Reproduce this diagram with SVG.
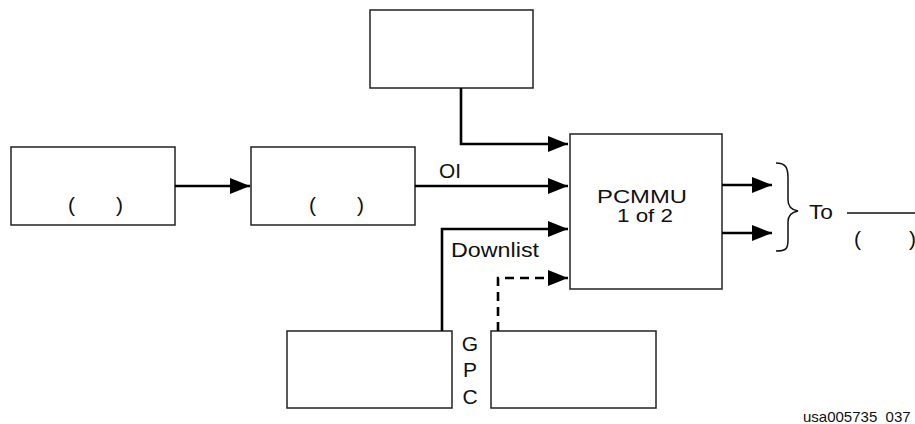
<svg xmlns="http://www.w3.org/2000/svg" width="915" height="424" viewBox="0 0 915 424">
<style>
.box{fill:#fff;stroke:#222;stroke-width:1.5}
.ln{fill:none;stroke:#000;stroke-width:2.6}
.dash{stroke-dasharray:9,6}
text{font-family:"Liberation Sans",Arial,sans-serif;font-size:21px;fill:#111}
.pc{font-size:19px}
</style>
<defs>
<marker id="ah" markerUnits="userSpaceOnUse" markerWidth="22" markerHeight="16" refX="20" refY="8" orient="auto">
<path d="M0,0 L20,8 L0,16 Z" fill="#000"/>
</marker>
</defs>
<g id="top-box"><rect class="box" x="370" y="10" width="163" height="78"/></g>
<g id="box-left"><rect class="box" x="11" y="147" width="164" height="78"/>
<text x="68" y="212">(</text><text x="116" y="212">)</text></g>
<g id="box-mid"><rect class="box" x="251" y="147" width="164" height="78"/>
<text x="309" y="212">(</text><text x="357" y="212">)</text></g>
<g id="pcmmu"><rect class="box" x="570" y="134" width="152" height="155"/>
<text class="pc" x="597" y="203" textLength="90" lengthAdjust="spacingAndGlyphs">PCMMU</text>
<text class="pc" x="617" y="222" textLength="56" lengthAdjust="spacingAndGlyphs">1 of 2</text></g>
<g id="box-bl"><rect class="box" x="287" y="331" width="165" height="77"/></g>
<g id="box-br"><rect class="box" x="491" y="331" width="165" height="77"/></g>
<g id="gpc"><text x="470" y="351" text-anchor="middle">G</text>
<text x="470" y="377" text-anchor="middle">P</text>
<text x="470" y="404" text-anchor="middle">C</text></g>
<g id="connectors">
<path class="ln" d="M461,88 V144 H568" marker-end="url(#ah)"/>
<path class="ln" d="M175,186 H250" marker-end="url(#ah)"/>
<path class="ln" d="M415,186 H568" marker-end="url(#ah)"/>
<path class="ln" d="M442,331 V229 H568" marker-end="url(#ah)"/>
<path class="ln dash" d="M498,331 V278 H568" marker-end="url(#ah)"/>
<path class="ln" d="M722,185 H772" marker-end="url(#ah)"/>
<path class="ln" d="M722,233 H772" marker-end="url(#ah)"/>
</g>
<g id="labels">
<text x="439" y="178" textLength="22" lengthAdjust="spacingAndGlyphs">OI</text>
<text x="451" y="257" textLength="88" lengthAdjust="spacingAndGlyphs">Downlist</text>
</g>
<g id="to">
<path d="M776,163 C786,163 788,168 788,178 V200 C788,207 792,210 798,211 C792,212 788,215 788,222 V240 C788,249 786,251 776,251" fill="none" stroke="#111" stroke-width="1.5"/>
<text x="809" y="219" textLength="24" lengthAdjust="spacingAndGlyphs">To</text>
<line x1="847" y1="213" x2="915" y2="213" stroke="#111" stroke-width="1.5"/>
<text x="854" y="246">(</text><text x="909" y="246">)</text>
</g>
<text x="803" y="422" style="font-size:15px">usa005735_037</text>
</svg>
